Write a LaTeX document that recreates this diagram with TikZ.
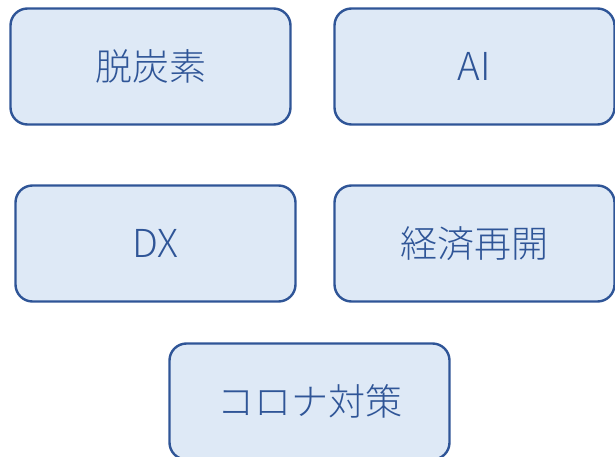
\documentclass[tikz,border=0pt]{standalone}
\usepackage{fontspec}
\setmainfont{Noto Sans CJK JP Light}
\definecolor{boxline}{HTML}{2F5597}
\definecolor{boxfill}{HTML}{DEE9F6}
\begin{document}
\begin{tikzpicture}[x=1pt,y=1pt,
  topic/.style={draw=boxline, fill=boxfill, line width=2.4pt, rounded corners=17pt,
    minimum width=280pt, minimum height=116pt, inner sep=0pt, text=boxline,
    font=\fontsize{37}{40}\selectfont},
  latin/.style={font=\fontsize{38.5}{42}\selectfont}]
\useasboundingbox (0,0) rectangle (615,456);
\clip (0,0) rectangle (615,456);
\node[topic] (b1) at (150.5,389.5) {脱炭素};
\node[topic, latin] (b2) at (474.5,389.5) {AI};
\node[topic, latin] (b3) at (155.5,212.5) {DX};
\node[topic] (b4) at (474.5,212.5) {経済再開};
\node[topic] (b5) at (309.5,54.5) {コロナ対策};
\end{tikzpicture}
\end{document}
